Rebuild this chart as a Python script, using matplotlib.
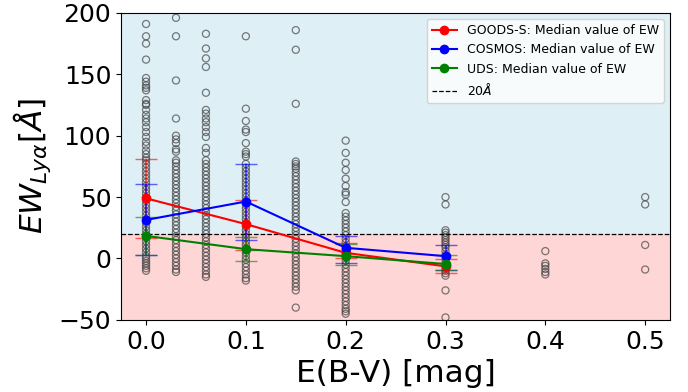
import numpy as np
import matplotlib
matplotlib.use("Agg")
import matplotlib.pyplot as plt

# E(B-V) bins and EW values of individual galaxies
ebv_bins = [0.0, 0.03, 0.06, 0.1, 0.15, 0.2, 0.3, 0.4, 0.5]
ew_000 = [191, 181, 175, 162, 147, 144, 141, 139, 137, 129, 126, 125, 121, 117, 114, 111, 107, 103, 99, 95, 92,
          88, 85, 82, 80, 77, 74, 71, 68, 65, 62, 59, 56, 53, 50, 47, 44, 41, 38, 35, 32, 29, 26, 23, 20, 17, 14,
          11, 8, 5, 2, 0, -2, -4, -6, -8, -10]
ew_003 = [196, 181, 145, 114, 100, 97, 94, 89, 87, 80, 78, 75, 72, 69, 66, 63, 60, 57, 54, 51, 48, 45, 42, 39, 36,
          33, 30, 27, 24, 21, 18, 15, 12, 9, 6, 3, 0, -3, -6, -9, -11]
ew_006 = [183, 171, 163, 156, 135, 121, 118, 114, 111, 107, 103, 99, 90, 86, 80, 77, 74, 71, 68, 65, 62, 59, 56, 53,
          50, 47, 44, 41, 38, 35, 32, 29, 26, 23, 20, 17, 14, 11, 8, 5, 2, -1, -4, -7, -10, -13, -15]
ew_010 = [181, 122, 112, 105, 103, 94, 87, 85, 83, 77, 74, 71, 68, 65, 62, 59, 56, 53, 50, 47, 44, 41, 38, 35, 32,
          29, 26, 23, 20, 17, 14, 11, 8, 5, 2, -1, -4, -7, -10, -13, -16, -18]
ew_015 = [186, 170, 126, 79, 77, 75, 73, 70, 67, 64, 61, 58, 55, 52, 49, 46, 43, 40, 37, 34, 31, 28, 25, 22, 19, 16,
          13, 10, 7, 4, 1, -2, -5, -8, -11, -14, -17, -20, -23, -26, -40]
ew_020 = [96, 86, 78, 72, 65, 59, 54, 52, 46, 37, 34, 31, 28, 25, 22, 19, 16, 13, 10, 7, 4, 1, -2, -5, -8, -11, -14,
          -17, -20, -23, -26, -29, -32, -35, -38, -41, -43, -45]
ew_030 = [50, 44, 23, 21, 19, 17, 15, 13, 11, 9, 6, 3, 0, -3, -6, -8, -10, -12, -14, -26, -48]
ew_040 = [6, -4, -6, -8.5, -11, -13]
ew_050 = [50, 44, 11, -9]
ew_all = [ew_000, ew_003, ew_006, ew_010, ew_015, ew_020, ew_030, ew_040, ew_050]

# Median values per field
med_x = [0.0, 0.1, 0.2, 0.3]
goods_med = [49, 28, 4.6, -6.4]
goods_lo = [17, 7, 0, -11.5]
goods_hi = [81, 48, 12.8, -0.3]
cosmos_med = [31.4, 46.4, 8.7, 1.9]
cosmos_lo = [3, 15, -3.8, -9.3]
cosmos_hi = [60.5, 77, 18.7, 11]
uds_med = [18.4, 7.6, 1.9, -4.5]
uds_lo = [2.9, -2, -5, -9.3]
uds_hi = [33.6, 17.9, 12, 2.7]

fig = plt.figure(figsize=(6.88, 3.92), dpi=100)
ax = fig.add_axes([0.176, 0.184, 0.798, 0.783])

ax.axhspan(20, 200, color='lightblue', alpha=0.4, lw=0, zorder=0)
ax.axhspan(-50, 20, color='#ffd6d6', lw=0, zorder=0)

for xb, vals in zip(ebv_bins, ew_all):
    ax.scatter(np.full(len(vals), xb), vals, s=26, facecolors='none', edgecolors='#444444',
               linewidths=0.9, alpha=0.7, zorder=2)

series = [("GOODS-S: Median value of EW", 'red', goods_med, goods_lo, goods_hi),
          ("COSMOS: Median value of EW", 'blue', cosmos_med, cosmos_lo, cosmos_hi),
          ("UDS: Median value of EW", 'green', uds_med, uds_lo, uds_hi)]
for label, col, med, lo, hi in series:
    med = np.array(med); lo = np.array(lo); hi = np.array(hi)
    ax.errorbar(med_x, med, yerr=[med - lo, hi - med], fmt='none', ecolor=col, elinewidth=1.5,
                capsize=8, alpha=0.6, zorder=3)
    ax.plot(med_x, med, '-o', color=col, lw=1.5, ms=6, label=label, zorder=4)

ax.axhline(20, color='black', ls='--', lw=0.9, label=r'20$\AA$', zorder=3)

ax.set_xlim(-0.025, 0.525)
ax.set_ylim(-50, 200)
ax.set_xticks([0.0, 0.1, 0.2, 0.3, 0.4, 0.5])
ax.set_yticks([-50, 0, 50, 100, 150, 200])
ax.tick_params(labelsize=18)
ax.set_xlabel('E(B-V) [mag]', fontsize=22.5)
ax.set_ylabel(r'$EW_{Ly\alpha}[\AA]$', fontsize=22.5)
ax.legend(loc='upper right', fontsize=9)

fig.savefig('out.png', dpi=100)
